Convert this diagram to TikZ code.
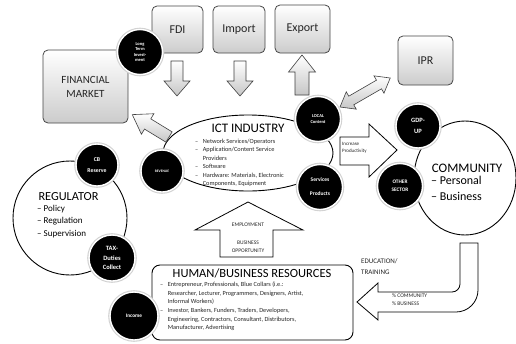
\documentclass[tikz,border=0pt]{standalone}
\usepackage{fontspec}
\setmainfont{Carlito}
\newcommand{\myfs}[2]{\fontsize{#1}{#2}\selectfont}
\begin{document}
\begin{tikzpicture}[x=1pt,y=1pt,
  graybox/.style={draw=gray!55!black, rounded corners=5pt, top color=white, bottom color=gray!40, line width=0.8pt, inner sep=0pt, text=black!85},
  garrow/.style={draw=gray!50!black, top color=white, bottom color=gray!45, line width=0.6pt},
  warrow/.style={draw=black, fill=white, line width=0.8pt, line join=miter},
  blk/.style={circle, fill=black, draw=white, line width=1.4pt, text=white, align=center, inner sep=0pt,
    preaction={draw=gray!35, line width=3.6pt}},
  bigcirc/.style={draw=black, fill=white, line width=0.9pt},
  small/.style={font=\myfs{6.3}{8.5}, text=black!85, align=left, inner sep=0pt}
]
\useasboundingbox (0,0) rectangle (516,-343);
\fill[white] (0,0) rectangle (516,-343);

% ---- big round shapes
\draw[bigcirc] (465,-178) ellipse [x radius=51, y radius=57];
\coordinate (comm) at (465,-178);
\draw[bigcirc] (70,-218) circle [radius=57];
\coordinate (regc) at (70,-218);
\draw[bigcirc] (248,-153) ellipse [x radius=85, y radius=38];
\coordinate (ict) at (248,-153);

% ---- gray boxes
\node[graybox, minimum width=51pt, minimum height=47pt, font=\myfs{12}{14}] (fdi) at (177.5,-29.5) {FDI};
\node[graybox, minimum width=52pt, minimum height=47pt, font=\myfs{12}{14}] (imp) at (239,-29.5) {Import};
\node[graybox, minimum width=55pt, minimum height=48pt, font=\myfs{12}{14}] (exp) at (302.5,-29) {Export};
\node[graybox, minimum width=55pt, minimum height=49pt, font=\myfs{12}{14}] (ipr) at (425.5,-60.5) {IPR};
\node[graybox, minimum width=85pt, minimum height=73pt, font=\myfs{11}{14}, align=center] (fm) at (85.5,-86.5) {FINANCIAL\\MARKET};

% ---- gray block arrows
\path[garrow] (171,-61)--(183,-61)--(183,-81)--(190,-81)--(177,-96)--(164,-81)--(171,-81)--cycle;
\path[garrow] (234,-61)--(246,-61)--(246,-81)--(253,-81)--(240,-96)--(227,-81)--(234,-81)--cycle;
\path[garrow] (295,-95)--(309,-95)--(309,-72)--(315.5,-72)--(302,-55)--(288.5,-72)--(295,-72)--cycle;
\begin{scope}[shift={(169,-137)}, rotate=148.6]
  \path[garrow] (0,-6)--(25,-6)--(25,-12)--(43,0)--(25,12)--(25,6)--(0,6)--cycle;
\end{scope}
\begin{scope}[shift={(340,-107)}, rotate=30]
  \path[garrow] (0,0)--(13,10)--(13,5)--(45,5)--(45,10)--(58,0)--(45,-10)--(45,-5)--(13,-5)--(13,-10)--cycle;
\end{scope}

% ---- white block arrows
\draw[warrow] (340,-137)--(369,-137)--(369,-124)--(397,-150)--(369,-177)--(369,-165)--(340,-165)--cycle;
\node[small, font=\myfs{5}{7.5}, anchor=west] (incp) at (342,-148) {Increase\\Productivity};

\draw[warrow] (220,-257)--(220,-230)--(195,-230)--(248,-202)--(303,-230)--(273,-230)--(273,-257)--cycle;
\node[font=\myfs{5.5}{7}, text=black!85] (empl) at (248,-225) {EMPLOYMENT};
\node[font=\myfs{5.5}{7.5}, text=black!85, align=center] (busop) at (248,-246.5) {BUSINESS\\OPPORTUNITY};

\draw[warrow] (478,-243)--(478,-290) arc[start angle=0,end angle=-90,radius=22] --(378,-312)--(378,-320)--(357,-302)--(378,-283)--(378,-292)--(452,-292) arc[start angle=-90,end angle=0,radius=8] --(460,-243)--cycle;
\node[small, font=\myfs{7}{11.5}, anchor=north west] (edu) at (361,-258) {EDUCATION/\\TRAINING};
\node[small, font=\myfs{5.5}{8}, anchor=north west] (pct) at (392,-294) {\% COMMUNITY\\\% BUSINESS};

% ---- human box
\node[draw=black, line width=0.9pt, rounded corners=8pt, fill=white, minimum width=201pt, minimum height=75pt] (hum) at (252.5,-302.5) {};
\node[font=\myfs{12.5}{14}, inner sep=0pt] (humt) at (252,-273) {HUMAN/BUSINESS RESOURCES};
\node[small, anchor=north west, font=\myfs{6.3}{8.6}] (huml) at (160,-280.5) {%
\begin{tabular}{@{}l@{\hspace{4.5pt}}l@{}}
-- & Entrepreneur, Professionals, Blue Collars (i.e.:\\
   & Researcher, Lecturer, Programmers, Designers, Artist,\\
   & Informal Workers)\\
-- & Investor, Bankers, Funders, Traders, Developers,\\
   & Engineering, Contractors, Consultant, Distributors,\\
   & Manufacturer, Advertising
\end{tabular}};

% ---- texts in big shapes
\node[font=\myfs{13}{15}, inner sep=0pt] (ictt) at (248,-128) {ICT INDUSTRY};
\node[small, anchor=north west, font=\myfs{6.3}{8.4}] (ictl) at (195,-137.5) {%
\begin{tabular}{@{}l@{\hspace{4.5pt}}l@{}}
-- & Network Services/Operators\\
-- & Application/Content Service\\
   & Providers\\
-- & Software\\
-- & Hardware: Materials, Electronic\\
   & Components, Equipment
\end{tabular}};

\node[font=\myfs{13}{15}, inner sep=0pt] (commt) at (467,-168) {COMMUNITY};
\node[font=\myfs{12}{16}, align=left, anchor=north west, inner sep=0pt] (comml) at (431,-176) {-- Personal\\-- Business};

\node[font=\myfs{12.3}{14}, inner sep=0pt] (regt) at (68.5,-197) {REGULATOR};
\node[font=\myfs{9}{12.5}, align=left, anchor=north west, inner sep=0pt] (regl) at (37,-205) {-- Policy\\-- Regulation\\-- Supervision};

% ---- black circles
\node[blk, minimum size=45pt, font=\bfseries\myfs{4.5}{5.6}] (lti) at (140,-52) {Long\\Term\\Invest-\\ment};
\node[blk, minimum size=42pt, font=\bfseries\myfs{3.6}{4.5}] (rev) at (162,-171) {REVENUE};
\node[blk, minimum size=45pt, font=\bfseries\myfs{4.5}{6.5}] (loc) at (318,-119) {LOCAL\\Content};
\node[blk, minimum size=45pt, font=\bfseries\myfs{5.5}{14}] (srv) at (320,-187) {Services\\Products};
\node[blk, minimum size=44pt, font=\bfseries\myfs{6.5}{10.5}] (gdp) at (418,-126) {GDP-\\UP};
\node[blk, minimum size=45pt, font=\bfseries\myfs{5.3}{8}] (oth) at (400,-186) {OTHER\\SECTOR};
\node[blk, minimum size=42pt, font=\bfseries\myfs{5.8}{11.5}] (cb) at (97,-165) {CB\\Reserve};
\node[blk, minimum size=46pt, font=\bfseries\myfs{6.5}{9.5}] (tax) at (112,-258) {TAX-\\Duties\\Collect};
\node[blk, minimum size=48pt, font=\bfseries\myfs{5.3}{7}] (inc) at (134,-316) {Income};
\end{tikzpicture}
\end{document}
